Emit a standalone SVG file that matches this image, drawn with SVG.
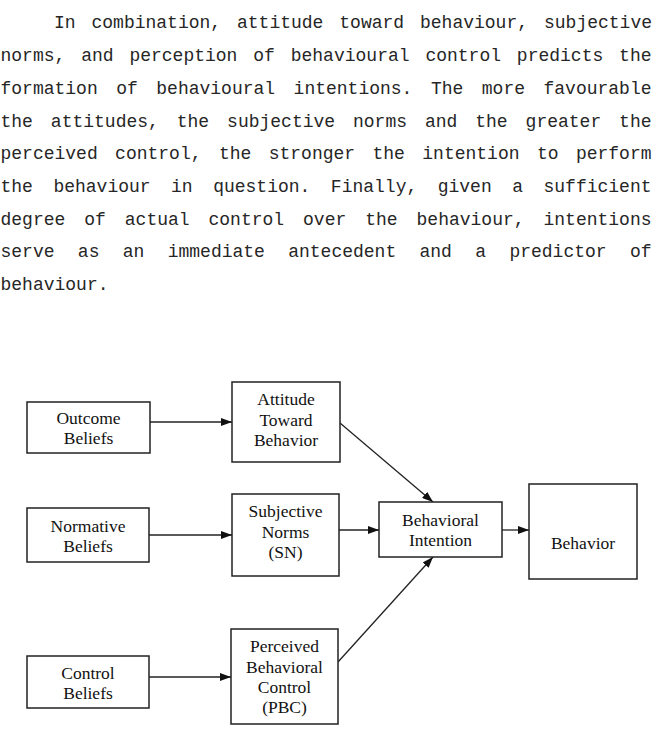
<svg xmlns="http://www.w3.org/2000/svg" width="653" height="738" viewBox="0 0 653 738">
<style>
.p{font-family:"Liberation Mono","Courier New",monospace;font-size:18px;fill:#262626}
.box{fill:#fff;stroke:#222;stroke-width:1.5}
.lbl{font-family:"Liberation Serif","Times New Roman",serif;font-size:17.5px;fill:#111;text-anchor:middle}
.edge{stroke:#222;stroke-width:1.3;fill:none;marker-end:url(#ah)}
</style>
<defs>
<marker id="ah" markerUnits="userSpaceOnUse" markerWidth="11" markerHeight="8" refX="11" refY="4" orient="auto">
<path d="M0,0 L11,4 L0,8 z" fill="#111"/>
</marker>
</defs>
<rect width="653" height="738" fill="#fff"/>
<g id="paragraph">
<text class="p" y="28"><tspan x="54">In</tspan><tspan x="91.5">combination,</tspan><tspan x="237">attitude</tspan><tspan x="339.3">toward</tspan><tspan x="420">behaviour,</tspan><tspan x="544">subjective</tspan></text>
<text class="p" y="61"><tspan x="0.5">norms,</tspan><tspan x="81.16">and</tspan><tspan x="129.41">perception</tspan><tspan x="253.27">of</tspan><tspan x="290.73">behavioural</tspan><tspan x="425.39">control</tspan><tspan x="516.84">predicts</tspan><tspan x="619.1">the</tspan></text>
<text class="p" y="94"><tspan x="0.5">formation</tspan><tspan x="116.2">of</tspan><tspan x="156.3">behavioural</tspan><tspan x="293.6">intentions.</tspan><tspan x="430.9">The</tspan><tspan x="481.8">more</tspan><tspan x="543.5">favourable</tspan></text>
<text class="p" y="126.5"><tspan x="0.5">the</tspan><tspan x="50.83">attitudes,</tspan><tspan x="176.75">the</tspan><tspan x="227.08">subjective</tspan><tspan x="353">norms</tspan><tspan x="424.93">and</tspan><tspan x="475.25">the</tspan><tspan x="525.58">greater</tspan><tspan x="619.1">the</tspan></text>
<text class="p" y="159"><tspan x="0.5">perceived</tspan><tspan x="115.1">control,</tspan><tspan x="218.9">the</tspan><tspan x="268.7">stronger</tspan><tspan x="372.5">the</tspan><tspan x="422.3">intention</tspan><tspan x="536.9">to</tspan><tspan x="575.9">perform</tspan></text>
<text class="p" y="192"><tspan x="0.5">the</tspan><tspan x="53.39">behaviour</tspan><tspan x="171.07">in</tspan><tspan x="213.16">question.</tspan><tspan x="330.84">Finally,</tspan><tspan x="437.73">given</tspan><tspan x="512.21">a</tspan><tspan x="543.5">sufficient</tspan></text>
<text class="p" y="224.5"><tspan x="0.5">degree</tspan><tspan x="84.24">of</tspan><tspan x="124.79">actual</tspan><tspan x="208.53">control</tspan><tspan x="303.07">over</tspan><tspan x="365.21">the</tspan><tspan x="416.56">behaviour,</tspan><tspan x="543.5">intentions</tspan></text>
<text class="p" y="257"><tspan x="0.5">serve</tspan><tspan x="77.83">as</tspan><tspan x="122.75">an</tspan><tspan x="167.68">immediate</tspan><tspan x="288.2">antecedent</tspan><tspan x="419.53">and</tspan><tspan x="475.25">a</tspan><tspan x="509.38">predictor</tspan><tspan x="629.9">of</tspan></text>
<text class="p" y="290"><tspan x="0.5">behaviour.</tspan></text>
</g>
<g id="connectors">
<line class="edge" x1="150" y1="422" x2="232" y2="422"/>
<line class="edge" x1="149" y1="535" x2="232" y2="535"/>
<line class="edge" x1="149" y1="677" x2="231" y2="677"/>
<line class="edge" x1="339" y1="530" x2="379" y2="530"/>
<line class="edge" x1="502" y1="530" x2="529" y2="530"/>
<line class="edge" x1="340" y1="423" x2="433" y2="502"/>
<line class="edge" x1="338" y1="662" x2="433" y2="557"/>
</g>
<g id="outcome-beliefs">
<rect class="box" x="27" y="402" width="123" height="51"/>
<text class="lbl" x="88.5" y="424">Outcome</text>
<text class="lbl" x="88.5" y="444">Beliefs</text>
</g>
<g id="normative-beliefs">
<rect class="box" x="27" y="508" width="122" height="54"/>
<text class="lbl" x="88" y="532">Normative</text>
<text class="lbl" x="88" y="552">Beliefs</text>
</g>
<g id="control-beliefs">
<rect class="box" x="27" y="656" width="122" height="52"/>
<text class="lbl" x="88" y="679">Control</text>
<text class="lbl" x="88" y="699">Beliefs</text>
</g>
<g id="attitude">
<rect class="box" x="232" y="382" width="108" height="80"/>
<text class="lbl" x="286" y="405">Attitude</text>
<text class="lbl" x="286" y="425.5">Toward</text>
<text class="lbl" x="286" y="446">Behavior</text>
</g>
<g id="subjective-norms">
<rect class="box" x="232" y="494" width="107" height="82"/>
<text class="lbl" x="285.5" y="517">Subjective</text>
<text class="lbl" x="285.5" y="537.5">Norms</text>
<text class="lbl" x="285.5" y="558">(SN)</text>
</g>
<g id="pbc">
<rect class="box" x="231" y="629" width="107" height="95"/>
<text class="lbl" x="284.5" y="652">Perceived</text>
<text class="lbl" x="284.5" y="672.5">Behavioral</text>
<text class="lbl" x="284.5" y="693">Control</text>
<text class="lbl" x="284.5" y="713">(PBC)</text>
</g>
<g id="behavioral-intention">
<rect class="box" x="379" y="502" width="123" height="55"/>
<text class="lbl" x="440.5" y="525.5">Behavioral</text>
<text class="lbl" x="440.5" y="546">Intention</text>
</g>
<g id="behavior">
<rect class="box" x="529" y="484" width="108" height="95"/>
<text class="lbl" x="583" y="549">Behavior</text>
</g>
</svg>
